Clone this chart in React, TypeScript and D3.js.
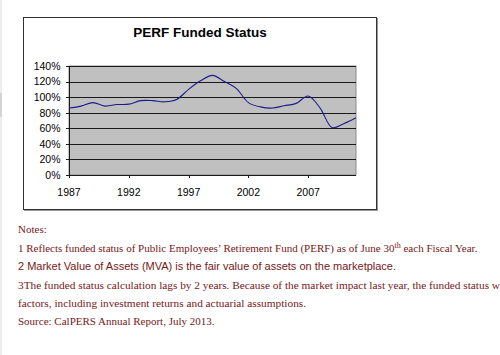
import React from "react";
import * as d3 from "d3";

const years = [1987, 1988, 1989, 1990, 1991, 1992, 1993, 1994, 1995, 1996, 1997, 1998, 1999, 2000, 2001, 2002, 2003, 2004, 2005, 2006, 2007, 2008, 2009, 2010, 2011];
const funded = [86, 88.5, 93, 88.5, 90.5, 91, 95.5, 95.5, 94, 97, 110, 121, 128, 120, 111, 93, 87.5, 86, 89, 92, 101.5, 86, 61, 66, 73.5];
const yTicks = [0, 20, 40, 60, 80, 100, 120, 140];
const xTickLabels = [1987, 1992, 1997, 2002, 2007];
const title = "PERF Funded Status";

const PL = 69, PR = 356, PT = 66, PB = 175;

export default function App() {
  const x = d3.scaleLinear().domain([1987, 2011]).range([PL, PR]);
  const y = d3.scaleLinear().domain([0, 140]).range([PB, PT]);
  const pts: [number, number][] = years.map((yr, i) => [x(yr), y(funded[i])]);
  const line = d3.line().curve(d3.curveCatmullRom.alpha(0.5))(pts) || "";
  const noteColor = "#761818";
  const serif = "'Liberation Serif', 'Times New Roman', serif";
  const sans = "'Liberation Sans', Arial, sans-serif";
  return (
    <svg width={500} height={355} style={{ position: "absolute", left: 0, top: 0, background: "#fff" }}>
      <rect x={0} y={0} width={500} height={355} fill="#fff" />
      <rect x={0} y={0} width={2} height={355} fill="#ececec" />
      <rect x={0} y={93} width={2} height={24} fill="#d4d4d4" />
      {/* chart box */}
      <rect x={24.5} y={18.5} width={353} height={192} fill="none" stroke="#999" strokeWidth={1} />
      <rect x={23.5} y={17.5} width={353} height={192} fill="#fff" stroke="#333" strokeWidth={1} />
      <text x={200} y={37} textAnchor="middle" fontFamily={sans} fontWeight="bold" fontSize={13.5} fill="#000">{title}</text>
      {/* plot area */}
      <rect x={PL} y={PT} width={PR - PL} height={PB - PT} fill="#c0c0c0" stroke="#8c8c8c" strokeWidth={1} />
      {yTicks.map((t) => (
        <g key={t}>
          {t > 0 && <line x1={PL} x2={PR} y1={Math.round(y(t)) + 0.5} y2={Math.round(y(t)) + 0.5} stroke="#1a1a1a" strokeWidth={1} />}
          <line x1={PL - 3} x2={PL} y1={Math.round(y(t)) + 0.5} y2={Math.round(y(t)) + 0.5} stroke="#1a1a1a" />
          <text x={60.5} y={y(t) + 3.8} textAnchor="end" fontFamily={sans} fontSize={10.5} fill="#000">{t}%</text>
        </g>
      ))}
      <line x1={PL - 3} x2={PR} y1={PB + 0.5} y2={PB + 0.5} stroke="#1a1a1a" />
      <line x1={PL + 0.5} x2={PL + 0.5} y1={PT} y2={PB} stroke="#1a1a1a" />
      {xTickLabels.map((t) => (
        <g key={t}>
          <line x1={Math.round(x(t)) + 0.5} x2={Math.round(x(t)) + 0.5} y1={PB} y2={PB + 3} stroke="#1a1a1a" />
          <text x={x(t)} y={196} textAnchor="middle" fontFamily={sans} fontSize={10.5} fill="#000">{t}</text>
        </g>
      ))}
      <path d={line} fill="none" stroke="#1c1c8c" strokeWidth={1.1} />
      {/* notes */}
      <g fill={noteColor}>
        <text x={18} y={233} fontFamily={serif} fontSize={11}>Notes:</text>
        <text x={18} y={252} fontFamily={serif} fontSize={11}>
          1 Reflects funded status of Public Employees’ Retirement Fund (PERF) as of June 30
          <tspan dy={-4} fontSize={8}>th</tspan>
          <tspan dy={4}> each Fiscal Year.</tspan>
        </text>
        <text x={18} y={270} fontFamily={sans} fontSize={11}>2 Market Value of Assets (MVA) is the fair value of assets on the marketplace.</text>
        <text x={18} y={289} fontFamily={serif} fontSize={11.3}>3The funded status calculation lags by 2 years. Because of the market impact last year, the funded status will</text>
        <text x={18} y={307} fontFamily={serif} fontSize={11.3}>factors, including investment returns and actuarial assumptions.</text>
        <text x={18} y={325} fontFamily={serif} fontSize={11}>Source: CalPERS Annual Report, July 2013.</text>
      </g>
    </svg>
  );
}
